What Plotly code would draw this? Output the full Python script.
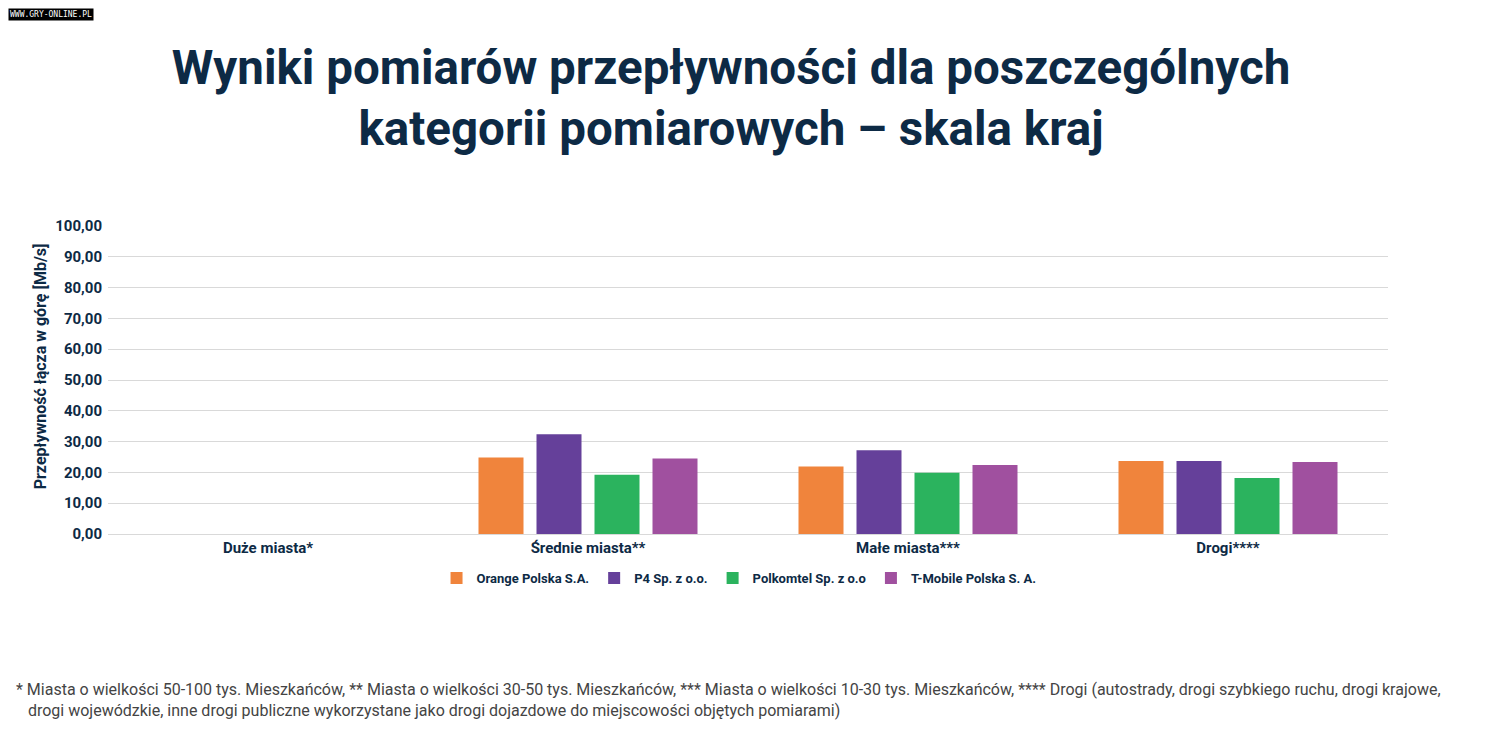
import plotly.graph_objects as go

# kategorie pomiarowe i wyniki (Mb/s, przepływność w górę)
categories = ["Duże miasta*", "Średnie miasta**", "Małe miasta***", "Drogi****"]
operators = ["Orange Polska S.A.", "P4 Sp. z o.o.", "Polkomtel Sp. z o.o", "T-Mobile Polska S. A."]
orange_vals = [None, 24.8, 21.9, 23.7]
p4_vals = [None, 32.4, 27.2, 23.7]
polkomtel_vals = [None, 19.2, 19.9, 18.2]
tmobile_vals = [None, 24.5, 22.4, 23.4]
y_ticks = [0, 10, 20, 30, 40, 50, 60, 70, 80, 90, 100]

colors = ["#F0843C", "#65409A", "#2BB35E", "#A0509F"]
navy = "#0D2A45"
font_main = "Roboto"

fig = go.Figure()
for name, vals, col in zip(operators, [orange_vals, p4_vals, polkomtel_vals, tmobile_vals], colors):
    fig.add_trace(go.Bar(x=categories, y=vals, name=name, marker_color=col,
                         marker_line_width=0))

fig.update_layout(
    width=1492, height=735,
    paper_bgcolor="white", plot_bgcolor="white",
    margin=dict(l=100, r=112, t=218, b=209),
    separators=", ",
    barmode="group", bargap=0.275, bargroupgap=0.224,
    font=dict(family=font_main, color=navy),
    title=dict(
        text="Wyniki pomiarów przepływności dla poszczególnych<br>kategorii pomiarowych – skala kraj",
        x=0.4846, xanchor="center", y=0.897, yanchor="middle",
        font=dict(size=47.5, color=navy, family=font_main, weight="bold"),
    ),
    showlegend=True,
    legend=dict(orientation="h", x=0.493, xanchor="center", y=-0.143, yanchor="middle",
                font=dict(size=13, color=navy, weight="bold"),
                itemwidth=30, traceorder="normal"),
)

fig.update_yaxes(range=[0, 100], tickvals=y_ticks, tickformat=".2f",
                 showgrid=True, gridcolor="#D9D9D9", gridwidth=1,
                 zeroline=False, showline=False,
                 tickfont=dict(size=15, color=navy, weight="bold"),
                 ticks="", ticklabelstandoff=5)
fig.update_xaxes(showline=True, linecolor="#D9D9D9", linewidth=1,
                 tickfont=dict(size=15, color=navy, weight="bold"), ticks="")

# tytuł osi Y
fig.add_annotation(
    text="Przepływność łącza w górę [Mb/s]", textangle=-90,
    xref="paper", yref="paper", x=-0.053, y=0.545, xanchor="center", yanchor="middle",
    showarrow=False, font=dict(size=16, color=navy, weight="bold"),
)

# przypisy pod wykresem
fig.add_annotation(
    text="* Miasta o wielkości 50-100 tys. Mieszkańców, ** Miasta o wielkości 30-50 tys. Mieszkańców, *** Miasta o wielkości 10-30 tys. Mieszkańców, **** Drogi (autostrady, drogi szybkiego ruchu, drogi krajowe,<br>   drogi wojewódzkie, inne drogi publiczne wykorzystane jako drogi dojazdowe do miejscowości objętych pomiarami)",
    xref="paper", yref="paper", x=-0.0734, y=-0.539, xanchor="left", yanchor="middle",
    align="left", showarrow=False, font=dict(size=16, color="#444444", family=font_main),
)

# znak wodny
fig.add_annotation(
    text="WWW.GRY-ONLINE.PL", xref="paper", yref="paper", x=-0.078, y=1.708,
    xanchor="left", yanchor="top", showarrow=False, bgcolor="black",
    font=dict(size=8, color="white", family="DejaVu Sans Mono"), borderpad=1,
)

fig.write_html("out.html")
